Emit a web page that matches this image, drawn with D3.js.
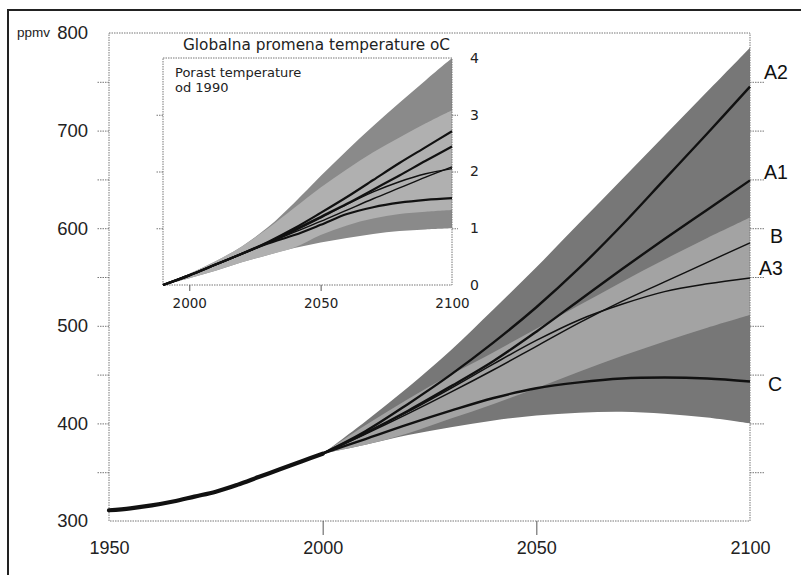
<!DOCTYPE html>
<html><head><meta charset="utf-8">
<script src="https://cdn.jsdelivr.net/npm/d3@7"></script>
<style>body{margin:0;background:#fff} svg{display:block}</style>
</head><body><svg id="c" width="801" height="575"></svg>
<script>
// ---------- DATA ----------
const histYears = [1950,1955,1960,1965,1970,1975,1980,1985,1990,1995,2000];
const histCO2   = [311,313,316,320,325,330,337,345,353,361,369];

const scenYears = [2000,2010,2020,2030,2040,2050,2060,2070,2080,2090,2100];
const co2A2 = [369,392,420,450,483,519,559,603,650,697,745];
const co2A1 = [369,390,413,438,464,494,526,558,589,619,649];
const co2B  = [369,389,410,432,455,479,503,525,545,565,585];
const co2A3 = [369,390,412,436,461,485,506,522,535,543,549];
const co2C  = [369,384,399,413,426,436,442,446,447,446,443];
const co2Upper     = [369,402,437,475,517,560,605,650,695,740,785];
const co2Lower     = [369,378,388,396,403,408,411,412,410,406,400];
const co2LightHigh = [369,398,425,450,473,497,521,545,568,590,611];
const co2LightLow  = [369,378,390,405,420,436,453,469,484,498,511];

const scenarioNames = ["A2","A1","B","A3","C"];

const tempYears = [1990,2000,2010,2020,2030,2040,2050,2060,2070,2080,2090,2100];
const tA2 = [0,0.17,0.36,0.55,0.76,1.00,1.27,1.55,1.85,2.15,2.43,2.71];
const tA1 = [0,0.17,0.36,0.55,0.75,0.97,1.20,1.43,1.68,1.93,2.19,2.44];
const tB  = [0,0.17,0.36,0.55,0.74,0.93,1.12,1.32,1.52,1.71,1.90,2.08];
const tA3 = [0,0.17,0.36,0.55,0.74,0.95,1.18,1.42,1.64,1.82,1.96,2.05];
const tC  = [0,0.17,0.36,0.55,0.73,0.88,1.06,1.25,1.37,1.45,1.50,1.53];
const tUpper     = [0,0.20,0.42,0.68,1.02,1.45,1.92,2.37,2.80,3.21,3.61,4.00];
const tLower     = [0,0.12,0.25,0.40,0.53,0.65,0.75,0.83,0.90,0.95,0.98,1.00];
const tLightHigh = [0,0.20,0.42,0.68,1.00,1.36,1.72,2.04,2.34,2.60,2.85,3.08];
const tLightLow  = [0,0.12,0.25,0.40,0.53,0.66,0.88,1.05,1.17,1.25,1.29,1.32];

const mainXTicks = [1950,2000,2050,2100];
const mainYTicks = [300,350,400,450,500,550,600,650,700,750,800];
const insetXTicks = [2000,2050,2100];
const insetYTicks = [0,1,2,3,4];

const titleText = "Globalna promena temperature oC";
const noteLines = ["Porast temperature","od 1990"];
const unitText = "ppmv";

// ---------- STYLE ----------
const svg = d3.select("#c");
svg.append("rect").attr("width",801).attr("height",575).attr("fill","#fff");
const axisCol = "#777";
const numFont = "'Liberation Sans', Arial, sans-serif";
const vFont = "'DejaVu Sans', Verdana, sans-serif";

// outer frame (left + top)
svg.append("path").attr("d","M8,575 V10 H801").attr("fill","none").attr("stroke","#222").attr("stroke-width",2);

// ---------- MAIN CHART ----------
const x = d3.scaleLinear().domain([1950,2100]).range([109,750]);
const y = d3.scaleLinear().domain([300,800]).range([521,33]);

const zip = (xs, ys) => xs.map((d,i)=>[d, ys[i]]);
const bandArea = (xs, lo, hi, sx, sy) => d3.area().curve(d3.curveCatmullRom.alpha(0.5))
  .x((d,i)=>sx(xs[i])).y0((d,i)=>sy(lo[i])).y1((d,i)=>sy(hi[i]))(xs);

svg.append("path").attr("d", bandArea(scenYears, co2Lower, co2Upper, x, y)).attr("fill","#777");
svg.append("path").attr("d", bandArea(scenYears, co2LightLow, co2LightHigh, x, y)).attr("fill","#a3a3a3");

// frame box dotted
svg.append("rect").attr("x",x(1950)).attr("y",y(800)).attr("width",x(2100)-x(1950)).attr("height",y(300)-y(800))
  .attr("fill","none").attr("stroke",axisCol).attr("stroke-width",1).attr("stroke-dasharray","1.5,1");

// left axis
const leftAxis = d3.axisLeft(y).tickValues(mainYTicks).tickSize(12).tickPadding(9)
  .tickFormat(d => d % 100 === 0 ? d : "");
const gl = svg.append("g").attr("transform",`translate(${x(1950)},0)`).call(leftAxis);
gl.select(".domain").remove();
gl.selectAll(".tick line").attr("stroke",axisCol).attr("stroke-dasharray","1.5,1");
gl.selectAll(".tick text").attr("font-family",numFont).attr("font-size",18.5).attr("fill","#222");
gl.selectAll(".tick").filter(d=>d===300||d===800).select("line").remove();

// right axis
const rightAxis = d3.axisRight(y).tickValues(mainYTicks.filter(d=>d>300&&d<800)).tickSize(14).tickFormat("");
const gr = svg.append("g").attr("transform",`translate(${x(2100)},0)`).call(rightAxis);
gr.select(".domain").remove();
gr.selectAll(".tick line").attr("stroke",axisCol).attr("stroke-dasharray","1.5,1");

// bottom axis
const bottomAxis = d3.axisBottom(x).tickValues(mainXTicks).tickSize(14).tickPadding(6).tickFormat(d3.format("d"));
const gb = svg.append("g").attr("transform",`translate(0,${y(300)})`).call(bottomAxis);
gb.select(".domain").remove();
gb.selectAll(".tick line").attr("stroke","#555");
gb.selectAll(".tick").filter(d=>d===1950||d===2100).select("line").remove();
gb.selectAll(".tick text").attr("font-family",numFont).attr("font-size",18).attr("fill","#222");

svg.append("text").attr("x",17).attr("y",37).attr("font-family",numFont).attr("font-size",13.5).attr("fill","#222").text(unitText);

// lines
const line = (sx, sy) => d3.line().curve(d3.curveCatmullRom.alpha(0.5)).x(d=>sx(d[0])).y(d=>sy(d[1]));
const mainSeries = [co2A2, co2A1, co2B, co2A3, co2C];
const widths = {A2:2.4, A1:2.4, B:1.5, A3:1.5, C:2.4};
mainSeries.forEach((s,i)=>{
  svg.append("path").attr("d", line(x,y)(zip(scenYears,s))).attr("fill","none")
    .attr("stroke","#111").attr("stroke-width",widths[scenarioNames[i]]);
});
svg.append("path").attr("d", line(x,y)(zip(histYears,histCO2))).attr("fill","none")
  .attr("stroke","#111").attr("stroke-width",4.2).attr("stroke-linecap","round");

// scenario labels
const labelShift = {A2:[14,-15], A1:[14,-8], B:[20,-7], A3:[9,-10], C:[18,3]};
mainSeries.forEach((s,i)=>{
  const n = scenarioNames[i];
  svg.append("text").attr("x", x(2100)+labelShift[n][0]).attr("y", y(s[s.length-1])+labelShift[n][1])
    .attr("dy","0.36em").attr("font-family",numFont).attr("font-size",19.5).attr("fill","#111").text(n);
});

// ---------- INSET ----------
const xi = d3.scaleLinear().domain([1990,2100]).range([163,452]);
const yi = d3.scaleLinear().domain([0,4]).range([285,58]);

svg.append("path").attr("d", bandArea(tempYears, tLower, tUpper, xi, yi)).attr("fill","#8a8a8a");
svg.append("path").attr("d", bandArea(tempYears, tLightLow, tLightHigh, xi, yi)).attr("fill","#b0b0b0");

svg.append("rect").attr("x",xi(1990)).attr("y",yi(4)).attr("width",xi(2100)-xi(1990)).attr("height",yi(0)-yi(4))
  .attr("fill","none").attr("stroke",axisCol).attr("stroke-width",1).attr("stroke-dasharray","1.5,1");

const gil = svg.append("g").attr("transform",`translate(${xi(1990)},0)`)
  .call(d3.axisLeft(yi).tickValues([1,2,3]).tickSize(7).tickFormat(""));
gil.select(".domain").remove();
gil.selectAll(".tick line").attr("stroke",axisCol).attr("stroke-dasharray","1.5,1");

const gir = svg.append("g").attr("transform",`translate(${xi(2100)},0)`)
  .call(d3.axisRight(yi).tickValues(insetYTicks).tickSize(6).tickPadding(12).tickFormat(d3.format("d")));
gir.select(".domain").remove();
gir.selectAll(".tick line").attr("stroke",axisCol).attr("stroke-dasharray","1.5,1");
gir.selectAll(".tick").filter(d=>d===0||d===4).select("line").remove();
gir.selectAll(".tick text").attr("font-family",vFont).attr("font-size",14).attr("fill","#222");

const gib = svg.append("g").attr("transform",`translate(0,${yi(0)})`)
  .call(d3.axisBottom(xi).tickValues(insetXTicks).tickSize(6).tickPadding(7).tickFormat(d3.format("d")));
gib.select(".domain").remove();
gib.selectAll(".tick line").attr("stroke","#555");
gib.selectAll(".tick").filter(d=>d===2100).select("line").remove();
gib.selectAll(".tick text").attr("font-family",vFont).attr("font-size",13.5).attr("fill","#222");

const insetSeries = [tA2, tA1, tB, tA3, tC];
const iw = {A2:2.2, A1:2.2, B:1.4, A3:1.4, C:2.2};
insetSeries.forEach((s,i)=>{
  svg.append("path").attr("d", line(xi,yi)(zip(tempYears,s))).attr("fill","none")
    .attr("stroke","#111").attr("stroke-width",iw[scenarioNames[i]]);
});

svg.append("text").attr("x",183).attr("y",49.5).attr("font-family",vFont).attr("font-size",15.3).attr("fill","#222").text(titleText);
noteLines.forEach((t,i)=>{
  svg.append("text").attr("x",175).attr("y",77+i*15).attr("font-family",vFont).attr("font-size",13).attr("fill","#222").text(t);
});
</script></body></html>
